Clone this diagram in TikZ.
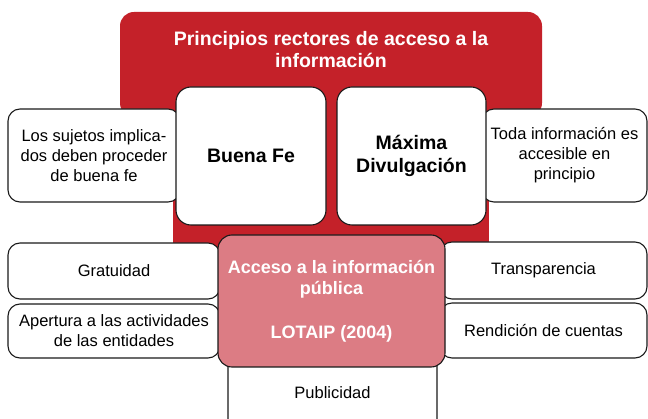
\documentclass[tikz,border=0pt]{standalone}
\usepackage{fontspec}
\setmainfont{Liberation Sans}
\definecolor{rojo}{HTML}{C42129}
\definecolor{rosa}{HTML}{DC7C84}
\definecolor{borde}{HTML}{1A1A1A}
\tikzset{
  caja/.style={draw=borde, line width=1.1pt, fill=white, rounded corners=12pt,
    align=center, inner sep=0pt, font=\fontsize{16.5}{20}\selectfont},
  principio/.style={caja, rounded corners=15pt, font=\bfseries\fontsize{19.5}{23}\selectfont},
  ley/.style={caja, fill=rosa, rounded corners=14pt, text=white,
    font=\bfseries\fontsize{18}{21.7}\selectfont},
}

\begin{document}
\begin{tikzpicture}[x=1pt,y=-1pt]
  \clip (0,0) rectangle (648,419);
  \useasboundingbox (0,0) rectangle (648,419);

  % fondo rojo
  \fill[rojo, rounded corners=14pt] (120,12) rectangle (542,117);
  \fill[rojo] (173,100) rectangle (489,248);
  \node [text=white, align=center, font=\bfseries\fontsize{19.5}{22}\selectfont] (titulo) at (331,50) {Principios rectores de acceso a la\\información};

  % principios
  \node [caja, minimum width=172, minimum height=93] (sujetos) at (94,155.5) {Los sujetos implica-\\dos deben proceder\\de buena fe};
  \node [caja, minimum width=165, minimum height=93] (toda) at (564.5,155.5) {Toda información es\\accesible en\\principio};
  \node [principio, minimum width=150, minimum height=138] (buenafe) at (251,156) {Buena Fe};
  \node [principio, minimum width=149, minimum height=138] (maxima) at (411.5,156) {Máxima\\Divulgación};

  % LOTAIP
  \node [caja, minimum width=212, minimum height=56] (gratuidad) at (114,271) {Gratuidad};
  \node [caja, minimum width=212, minimum height=54] (apertura) at (114,331) {Apertura a las actividades\\de las entidades};
  \node [caja, minimum width=207, minimum height=57] (transparencia) at (543.5,270.5) {Transparencia};
  \node [caja, minimum width=207, minimum height=55] (rendicion) at (543.5,330.5) {Rendición de cuentas};
  \node [caja, minimum width=209, minimum height=95] (publicidad) at (332.5,392.5) {Publicidad};
  \node [ley, minimum width=227, minimum height=132] (acceso) at (331.5,301) {Acceso a la información\\pública\\\mbox{}\\LOTAIP (2004)};
\end{tikzpicture}
\end{document}
